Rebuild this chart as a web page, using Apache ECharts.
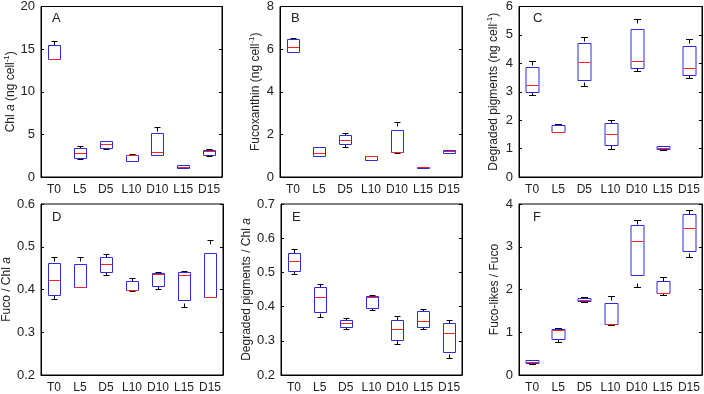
<!DOCTYPE html>
<html><head><meta charset="utf-8">
<script src="https://cdn.jsdelivr.net/npm/echarts@6/dist/echarts.min.js"></script>
<style>html,body{margin:0;padding:0;background:#fff}#c{width:704px;height:394px}</style>
</head><body><div id="c"></div>
<script>
// categories
const categories = ['T0','L5','D5','L10','D10','L15','D15'];
// each entry: [lowerWhisker, q1, median, q3, upperWhisker]
const chlA = [[13.8,13.8,13.8,15.5,16.0],[2.08,2.23,2.85,3.46,3.65],[3.3,3.35,3.85,4.19,4.27],[1.88,1.92,2.6,2.6,2.65],[2.58,2.6,2.9,5.2,5.9],[1.0,1.04,1.2,1.35,1.42],[2.5,2.55,3.0,3.2,3.27]];
const fucoxanthin = [[5.85,5.88,6.11,6.46,6.54],[0.97,1.0,1.14,1.4,1.43],[1.43,1.54,1.74,1.97,2.05],[0.78,0.82,0.98,0.98,1.0],[1.14,1.15,1.15,2.22,2.57],[0.42,0.43,0.45,0.46,0.47],[1.11,1.11,1.2,1.25,1.25]];
const degraded = [[2.88,2.99,3.24,3.86,4.09],[1.57,1.58,1.6,1.83,1.87],[3.21,3.41,4.06,4.7,4.91],[0.99,1.13,1.53,1.91,2.0],[3.74,3.83,4.09,5.2,5.55],[0.96,0.97,1.03,1.09,1.1],[3.5,3.59,3.85,4.62,4.86]];
const fucoChl = [[0.378,0.388,0.422,0.462,0.476],[0.406,0.406,0.406,0.459,0.476],[0.435,0.441,0.459,0.477,0.483],[0.397,0.398,0.399,0.419,0.426],[0.401,0.409,0.436,0.439,0.441],[0.359,0.376,0.433,0.442,0.444],[0.382,0.383,0.383,0.485,0.516]];
const degChl = [[0.495,0.505,0.533,0.558,0.567],[0.37,0.383,0.428,0.457,0.467],[0.335,0.341,0.352,0.362,0.368],[0.389,0.397,0.428,0.43,0.434],[0.29,0.302,0.334,0.362,0.373],[0.335,0.341,0.359,0.386,0.394],[0.25,0.268,0.324,0.351,0.362]];
const fucoLikes = [[0.25,0.28,0.31,0.35,0.36],[0.77,0.85,1.05,1.07,1.1],[1.7,1.72,1.76,1.8,1.82],[1.17,1.19,1.19,1.69,1.85],[2.07,2.35,3.13,3.5,3.62],[1.88,1.91,1.91,2.2,2.29],[2.75,2.91,3.44,3.76,3.86]];
// y-axis tick ranges
const yRanges = [[0,20,5],[0,8,2],[0,6,1],[0.2,0.6,0.1],[0.2,0.7,0.1],[0,4,1]];
const panelLetters = ['A','B','C','D','E','F'];
const yNames = [
  '{n|Chl }{i|a}{n| (ng cell}{s|-1}{n|)}',
  '{n|Fucoxanthin (ng cell}{s|-1}{n|)}',
  '{n|Degraded pigments (ng cell}{s|-1}{n|)}',
  '{n|Fuco / Chl }{i|a}',
  '{n|Degraded pigments / Chl }{i|a}',
  '{n|Fuco-likes / Fuco}'
];
const panels = [chlA, fucoxanthin, degraded, fucoChl, degChl, fucoLikes];

const grids = [
  {left:41, top:5, width:181, height:172},
  {left:280, top:5, width:182, height:172},
  {left:519, top:5, width:183, height:172},
  {left:41, top:204, width:182, height:174},
  {left:281, top:204, width:181, height:174},
  {left:519, top:204, width:183, height:174}
];
const nameGaps = [17,17,18,22,28,18];
const letterPos = [[52,12],[291,12],[533,12],[52,211],[292,211],[533,211]];

const FONT = 'Liberation Sans, Arial, sans-serif';
const txt = '#222';
const rich = {
  n:{fontFamily:FONT,fontSize:12,color:txt},
  i:{fontFamily:FONT,fontSize:12,color:txt,fontStyle:'italic'},
  s:{fontFamily:FONT,fontSize:8,color:txt,padding:[0,0,7,0]}
};

const xAxis = [], yAxis = [], series = [];
panels.forEach((data, k) => {
  const [mn, mx, iv] = yRanges[k];
  const dec = iv < 1 ? 1 : 0;
  xAxis.push({type:'category', gridIndex:k, data:categories,
    axisLine:{lineStyle:{color:'#000'}}, axisTick:{show:false},
    axisLabel:{color:txt, fontFamily:FONT, fontSize:12, margin:7, interval:0, hideOverlap:false}});
  yAxis.push({type:'value', gridIndex:k, min:mn, max:mx, interval:iv,
    name: yNames[k], nameLocation:'middle', nameGap: nameGaps[k], nameRotate:90,
    nameTextStyle:{rich: rich},
    axisLine:{show:true, lineStyle:{color:'#000'}},
    axisTick:{show:true, inside:true, length:3, lineStyle:{color:'#000'}},
    axisLabel:{color:txt, fontFamily:FONT, fontSize:13, margin:6, formatter:v=>v.toFixed(dec)},
    splitLine:{show:false}});
  yAxis.push({type:'value', gridIndex:k, min:mn, max:mx, interval:iv, position:'right',
    axisLine:{show:true, lineStyle:{color:'#000'}},
    axisTick:{show:true, inside:true, length:3, lineStyle:{color:'#000'}},
    axisLabel:{show:false}, splitLine:{show:false}});
  series.push({
    type:'custom', xAxisIndex:k, yAxisIndex:2*k,
    data: data.map((d,i)=>[i].concat(d)),
    encode:{x:0, y:[1,2,3,4,5]},
    renderItem: function(params, api){
      const xi = api.value(0);
      const cx = Math.round(api.coord([xi, 0])[0]) + 0.5;
      const yv = j => Math.round(api.coord([xi, api.value(j)])[1]) + 0.5;
      const yLow = yv(1), yQ1 = yv(2), yMed = yv(3), yQ3 = yv(4), yHigh = yv(5);
      const bw = Math.round(api.size([1,0])[0]*0.48);
      const cw = Math.round(bw*0.5);
      const children = [];
      const line = (x1,y1,x2,y2,c) => ({type:'line', shape:{x1,y1,x2,y2}, style:{stroke:c, lineWidth:1}});
      if (yQ3 - yHigh > 0.5) children.push(line(cx, yHigh, cx, Math.min(yHigh+4, yQ3), '#000'));
      children.push(line(cx-cw/2, yHigh, cx+cw/2, yHigh, '#000'));
      if (yLow - yQ1 > 0.5) children.push(line(cx, yLow, cx, Math.max(yLow-4, yQ1), '#000'));
      children.push(line(cx-cw/2, yLow, cx+cw/2, yLow, '#000'));
      children.push({type:'rect', shape:{x:cx-bw/2, y:yQ3, width:bw, height:Math.max(yQ1-yQ3,1)},
        style:{fill:'none', stroke:'#2b2bdc', lineWidth:1}});
      children.push(line(cx-bw/2+0.5, yMed, cx+bw/2-0.5, yMed, '#ff2020'));
      return {type:'group', children};
    }
  });
});

const chart = echarts.init(document.getElementById('c'), null, {renderer:'canvas'});
chart.setOption({
  animation:false,
  backgroundColor:'#fff',
  grid: grids.map(g=>Object.assign({show:true, borderColor:'#000', borderWidth:1, backgroundColor:'transparent'}, g)),
  xAxis, yAxis, series,
  graphic: panelLetters.map((t,k)=>({type:'text', left:letterPos[k][0], top:letterPos[k][1],
    style:{text:t, fill:txt, font:'13px '+FONT}}))
});
</script></body></html>
